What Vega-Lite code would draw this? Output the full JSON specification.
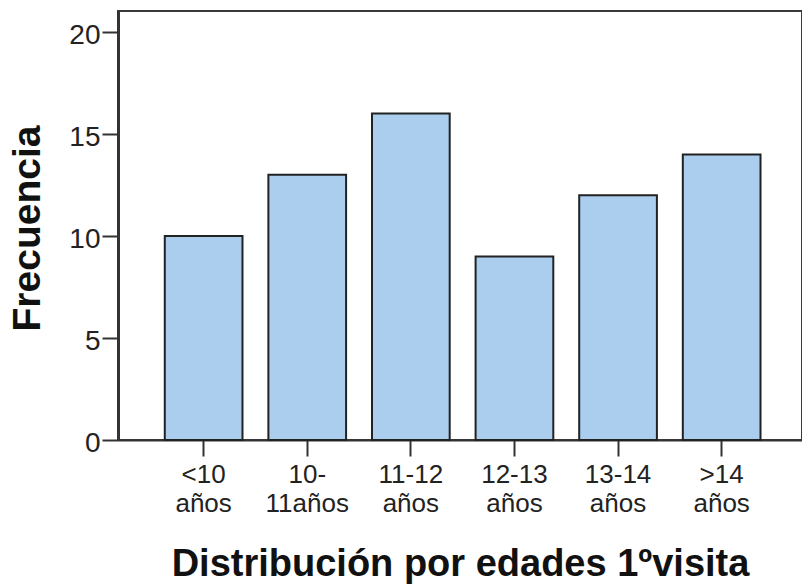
{
  "$schema": "https://vega.github.io/schema/vega-lite/v6.json",
  "width": 684,
  "height": 429,
  "autosize": "none",
  "padding": {"left": 118, "top": 11, "right": 0, "bottom": 146},
  "background": "white",
  "config": {
    "view": {"stroke": "#3a3a3a", "strokeWidth": 2},
    "font": "Liberation Sans"
  },
  "data": {
    "values": [
      {"edad": "<10 años", "frecuencia": 10},
      {"edad": "10- 11años", "frecuencia": 13},
      {"edad": "11-12 años", "frecuencia": 16},
      {"edad": "12-13 años", "frecuencia": 9},
      {"edad": "13-14 años", "frecuencia": 12},
      {"edad": ">14 años", "frecuencia": 14}
    ]
  },
  "mark": {"type": "bar", "fill": "#abcdee", "stroke": "#222222", "strokeWidth": 2},
  "encoding": {
    "x": {
      "field": "edad",
      "type": "nominal",
      "sort": null,
      "scale": {"paddingInner": 0.25, "paddingOuter": 0.426, "align": 0.53},
      "axis": {
        "title": "Distribución por edades 1ºvisita",
        "titleFont": "Liberation Sans",
        "titleFontWeight": "bold",
        "titleFontSize": 38,
        "titleColor": "#111111",
        "titleY": 135,
        "titleBaseline": "alphabetic",
        "labelExpr": "split(datum.label, ' ')",
        "labelAngle": 0,
        "labelFont": "Liberation Sans",
        "labelFontSize": 26,
        "labelColor": "#222222",
        "labelLineHeight": 29,
        "labelPadding": 5,
        "labelBaseline": "top",
        "tickSize": 16,
        "tickWidth": 2,
        "tickColor": "#333333",
        "domainColor": "#333333",
        "domainWidth": 2
      }
    },
    "y": {
      "field": "frecuencia",
      "type": "quantitative",
      "scale": {"domain": [0, 21.03], "nice": false},
      "axis": {
        "title": "Frecuencia",
        "titleFont": "Liberation Sans",
        "titleFontWeight": "bold",
        "titleFontSize": 39,
        "titleColor": "#111111",
        "titleX": -91,
        "titleY": 217,
        "titleAngle": -90,
        "titleAlign": "center",
        "titleBaseline": "middle",
        "values": [0, 5, 10, 15, 20],
        "grid": false,
        "labelFont": "Liberation Sans",
        "labelFontSize": 28,
        "labelColor": "#222222",
        "labelPadding": 2,
        "labelOffset": 3,
        "tickSize": 16,
        "tickWidth": 2,
        "tickColor": "#333333",
        "domainColor": "#333333",
        "domainWidth": 3
      }
    }
  }
}
